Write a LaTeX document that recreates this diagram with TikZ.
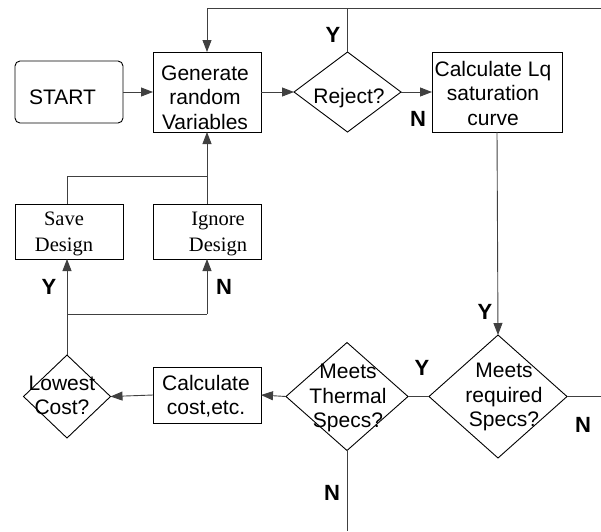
\documentclass[tikz,border=0pt]{standalone}
\usepackage{fontspec}
\setmainfont{Liberation Sans}
\newfontfamily\timesf{Liberation Serif}
\usetikzlibrary{shapes.geometric,arrows.meta}
\begin{document}
\begin{tikzpicture}[x=1pt,y=-1pt,
  box/.style={draw=black, line width=0.9pt, inner sep=0pt, outer sep=0pt, rectangle},
  dia/.style={draw=black, diamond, line width=0.9pt, inner sep=0pt, outer sep=0pt},
  txt/.style={font=\fontsize{21}{24.5}\selectfont, align=center, inner sep=0pt},
  ttxt/.style={font=\timesf\fontsize{20.5}{26}\selectfont, align=center, inner sep=0pt},
  yn/.style={font=\bfseries\fontsize{22}{22}\selectfont, inner sep=0pt},
  conn/.style={draw=black!75, line width=0.9pt},
  arr/.style={conn, -{Triangle[length=12pt,width=9pt]}}
]
\useasboundingbox (0,0) rectangle (601,531);

% boxes
\node[box, rounded corners=5pt, minimum width=108pt, minimum height=62pt] (start) at (69,92) {};
\node[box, minimum width=108pt, minimum height=80pt] (gen) at (207,92) {};
\node[box, minimum width=130pt, minimum height=80pt] (calclq) at (497,92) {};
\node[box, minimum width=108pt, minimum height=55pt] (save) at (69,231.5) {};
\node[box, minimum width=108pt, minimum height=55pt] (ignore) at (207,231.5) {};
\node[box, minimum width=108pt, minimum height=56pt] (cost) at (207,395) {};

% diamonds
\node[dia, minimum width=107pt, minimum height=80pt] (reject) at (347.5,92) {};
\node[dia, minimum width=87pt, minimum height=83pt] (lowest) at (67,396.5) {};
\node[dia, minimum width=122pt, minimum height=108pt] (thermal) at (347,396.5) {};
\node[dia, minimum width=138pt, minimum height=123pt] (required) at (498,396.5) {};

% texts
\node[txt] (startt) at (62.5,97) {START};
\node[txt] (gent) at (205,97.5) {Generate\\random\\Variables};
\node[txt] (rejectt) at (349,98) {Reject?};
\node[txt] (calclqt) at (493,93) {Calculate Lq\\saturation\\curve};
\node[ttxt] (savet) at (64,233.5) {Save\\Design};
\node[ttxt] (ignoret) at (218,233.5) {Ignore\\Design};
\node[txt] (lowestt) at (62,395.5) {Lowest\\Cost?};
\node[txt] (costt) at (206,396) {Calculate\\cost,etc.};
\node[txt] (thermalt) at (348,398) {Meets\\Thermal\\Specs?};
\node[txt] (requiredt) at (504,397) {Meets\\required\\Specs?};

% coordinates
\coordinate (ttop) at (347.5,8);
\coordinate (tleft) at (207,8);
\coordinate (tright) at (601,8);
\coordinate (jtop) at (207,176);
\coordinate (jsave) at (67,176);
\coordinate (jbot) at (67,314);
\coordinate (jign) at (207,314);
\coordinate (rright) at (601,396.5);
\coordinate (tbot) at (347,531);

% connectors
\draw[arr] (start.east) -- (gen.west);
\draw[arr] (gen.east) -- (reject.west);
\draw[arr] (reject.east) -- (calclq.west);
\draw[conn] (reject.north) -- (ttop);
\draw[conn] (tright) -- (tleft);
\draw[arr] (tleft) -- (gen.north);
\draw[arr] (calclq.south) -- (required.north);
\draw[conn] (required.west) -- (thermal.east);
\draw[conn] (required.east) -- (rright);
\draw[arr] (thermal.west) -- (cost.east);
\draw[arr] (cost.west) -- (lowest.east);
\draw[conn] (thermal.south) -- (tbot);
\draw[conn] (lowest.north) -- (jbot);
\draw[arr] (jbot) -- (jbot |- save.south);
\draw[conn] (jbot) -- (jign);
\draw[arr] (jign) -- (ignore.south);
\draw[conn] (jsave |- save.north) -- (jsave) -- (jtop);
\draw[conn] (ignore.north) -- (jtop);
\draw[arr] (jtop) -- (gen.south);

% labels
\node[yn] (y1) at (333,35) {Y};
\node[yn] (n1) at (418,119) {N};
\node[yn] (y2) at (49,287) {Y};
\node[yn] (n2) at (224,287) {N};
\node[yn] (y3) at (485,312) {Y};
\node[yn] (y4) at (422,368) {Y};
\node[yn] (n3) at (583,425) {N};
\node[yn] (n4) at (332,493) {N};
\end{tikzpicture}
\end{document}
